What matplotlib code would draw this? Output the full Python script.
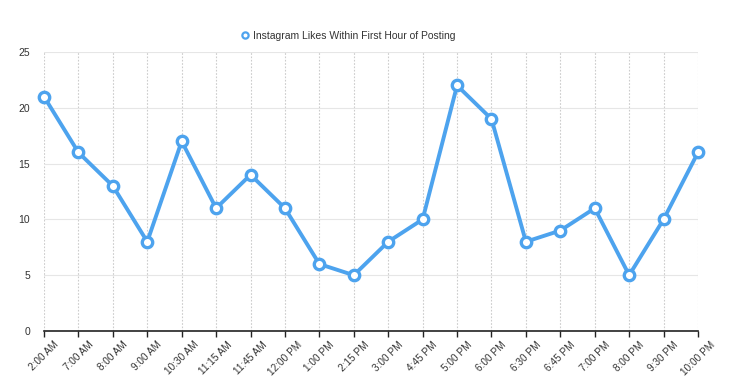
import matplotlib
matplotlib.use("Agg")
import matplotlib.pyplot as plt

categories = ["2:00 AM", "7:00 AM", "8:00 AM", "9:00 AM", "10:30 AM", "11:15 AM", "11:45 AM",
              "12:00 PM", "1:00 PM", "2:15 PM", "3:00 PM", "4:45 PM", "5:00 PM", "6:00 PM",
              "6:30 PM", "6:45 PM", "7:00 PM", "8:00 PM", "9:30 PM", "10:00 PM"]
likes = [21, 16, 13, 8, 17, 11, 14, 11, 6, 5, 8, 10, 22, 19, 8, 9, 11, 5, 10, 16]
yticks = [0, 5, 10, 15, 20, 25]
series_name = "Instagram Likes Within First Hour of Posting"

plt.rcParams['font.family'] = ['Liberation Sans', 'DejaVu Sans']
color = "#4DA3EE"

fig = plt.figure(figsize=(7.41, 3.91), dpi=100)
ax = fig.add_axes([44/741, 1-331/391, (698-44)/741, (331-52)/391])
x = list(range(len(categories)))
ax.plot(x, likes, color=color, lw=2.8, marker='o', ms=7.5, mfc='white', mec=color, mew=2.4,
        label=series_name, zorder=3, clip_on=False)
ax.set_xlim(0, len(categories)-1)
ax.set_ylim(0, 25)
ax.set_yticks(yticks)
ax.set_xticks(x)
ax.set_xticklabels(categories, rotation=45, ha='center', fontsize=7.2, color='#333333')
ax.tick_params(axis='y', length=0, labelsize=7.5, labelcolor='#333333', pad=10)
ax.tick_params(axis='x', length=4, width=1, color='#222222', pad=2)
for s in ['top', 'right', 'left']:
    ax.spines[s].set_visible(False)
ax.spines['bottom'].set_color('#222222')
ax.spines['bottom'].set_linewidth(1.2)
ax.yaxis.grid(True, color='#e6e6e6', lw=0.8, ls='-')
ax.xaxis.grid(True, color='#cccccc', lw=0.8, ls=(0, (1.5, 1.5)))
ax.set_axisbelow(True)
leg = fig.legend(handles=[plt.Line2D([], [], color=color, lw=0, marker='o', ms=4.5, mfc='white', mec=color, mew=1.6)],
                 labels=[series_name], loc='center', bbox_to_anchor=(0.47, 1-36/391), frameon=False,
                 fontsize=7.5, handlelength=0.8, handletextpad=0.4, labelcolor='#333333')
fig.savefig("out.png", dpi=100)
